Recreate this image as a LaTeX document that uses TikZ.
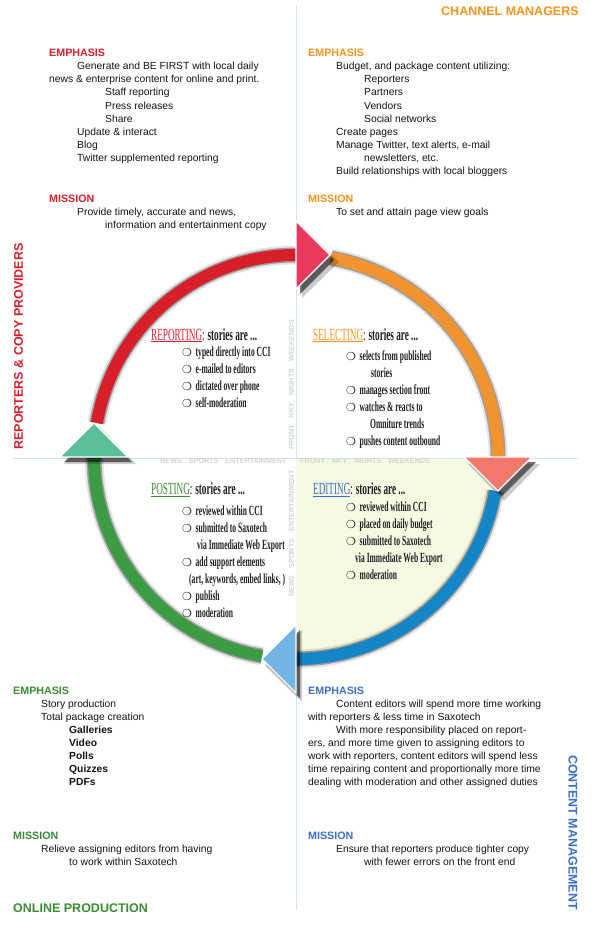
\documentclass[tikz,border=0pt]{standalone}
\usepackage{fontspec}
\setmainfont{Liberation Sans}
\newfontfamily\condfont[FakeStretch=0.54]{Liberation Serif}
\newfontfamily\dvfont{DejaVu Sans}
\definecolor{cRed}{HTML}{D9202A}
\definecolor{cOrange}{HTML}{F7941D}
\definecolor{cGreen}{HTML}{3B8C35}
\definecolor{cBlue}{HTML}{3A6FCB}
\definecolor{aRed}{HTML}{D71F2A}
\definecolor{aOrange}{HTML}{F29331}
\definecolor{aBlue}{HTML}{1685C8}
\definecolor{aGreen}{HTML}{3C9C44}
\definecolor{tTop}{HTML}{E93A5D}
\definecolor{tRight}{HTML}{F1786C}
\definecolor{tBottom}{HTML}{72B4E4}
\definecolor{tLeft}{HTML}{5CBF98}
\definecolor{quadcol}{HTML}{F5FBE3}
\definecolor{axiscol}{HTML}{D3E5F3}
\newcommand\bulx{\makebox[13.5pt][l]{\mdseries\dvfont\fontsize{11}{11}\selectfont ❍}}
\newcommand\indn[1]{\hspace*{#1pt}}
\newcommand\hdr[2]{{\color{#1}\bfseries\fontsize{10.7}{13.1}\selectfont #2}}
\begin{document}
\begin{tikzpicture}[x=1pt,y=-1pt,
  body/.style={anchor=north west, inner sep=0, align=left, text=black!92,
    font=\fontsize{10.3}{13.1}\selectfont},
  side/.style={inner sep=0, font=\bfseries\fontsize{12.5}{14}\selectfont},
  wm/.style={inner sep=0, text=black!17, font=\bfseries\fontsize{7.2}{8}\selectfont},
  items/.style={anchor=north west, inner sep=0, align=left, text=black!88,
    font=\condfont\bfseries\fontsize{14}{17}\selectfont},
  stage/.style={anchor=base west, inner sep=0, text=black!88,
    font=\condfont\fontsize{17}{19}\selectfont},
  axisline/.style={draw=axiscol, line width=1},
  ring/.style={line width=12},
  shA/.style={line width=19, black, opacity=0.10},
  shB/.style={line width=15, black, opacity=0.30},
  shC/.style={line width=11, black, opacity=0.65},
  tri/.style={draw=white, line width=1.3},
  trishA/.style={fill=black, opacity=0.20},
  trishB/.style={fill=black, opacity=0.55}
]
\useasboundingbox (0,0) rectangle (600,933);
\fill[white] (0,0) rectangle (600,933);

% axes
\coordinate (vtop) at (296,5);
\coordinate (vbot) at (296,910);
\coordinate (hl) at (12,458);
\coordinate (hr) at (578,458);
\draw[axisline] (vtop) -- (vbot);
\draw[axisline] (hl) -- (hr);

% circle centre and quadrant fill
\coordinate (C) at (296,457);
\fill[quadcol] (296,459) -- (498,459) arc[start angle=0, end angle=90, radius=202] -- cycle;

% watermarks
\node[wm, anchor=west] (wm1) at (160,461) {NEWS\hspace{7pt}SPORTS\hspace{7pt}ENTERTAINMENT};
\node[wm, anchor=west] (wm2) at (300,461) {FRONT\hspace{7pt}NKY\hspace{7pt}NIGHTS\hspace{7pt}WEEKENDS};
\node[wm, anchor=west, rotate=90] (wm3) at (291.5,597) {NEWS\hspace{7pt}SPORTS\hspace{7pt}ENTERTAINMENT};
\node[wm, anchor=west, rotate=90] (wm4) at (291.5,450) {FRONT\hspace{7pt}NKY\hspace{7pt}NIGHTS\hspace{7pt}WEEKENDS};

% arc shadows
\begin{scope}[shift={(5,6)}]
\foreach \a/\b in {189.7/270, 280/360, 9.7/90, 99.7/180}{
  \draw[shA] (C) ++(\a:202) arc[start angle=\a, end angle=\b, radius=202];
  \draw[shB] (C) ++(\a:202) arc[start angle=\a, end angle=\b, radius=202];
  \draw[shC] (C) ++(\a:202) arc[start angle=\a, end angle=\b, radius=202];
}
\end{scope}

% arcs
\draw[ring, aRed] (C) ++(189.7:202) arc[start angle=189.7, end angle=270, radius=202];
\draw[ring, aOrange] (C) ++(280:202) arc[start angle=280, end angle=360, radius=202];
\draw[ring, aBlue] (C) ++(9.7:202) arc[start angle=9.7, end angle=90, radius=202];
\draw[ring, aGreen] (C) ++(99.7:202) arc[start angle=99.7, end angle=180, radius=202];

% arrowhead shadows
\begin{scope}[shift={(6,7)}]
\fill[trishA] (296,219) -- (333,255) -- (296,291) -- cycle;
\fill[trishA] (462,457) -- (534,457) -- (498,494) -- cycle;
\fill[trishA] (296,623) -- (296,695) -- (259,659) -- cycle;
\fill[trishA] (58,457) -- (130,457) -- (94,420) -- cycle;
\end{scope}
\begin{scope}[shift={(4,5)}]
\fill[trishB] (296,221) -- (330,255) -- (296,289) -- cycle;
\fill[trishB] (464,457) -- (532,457) -- (498,491) -- cycle;
\fill[trishB] (296,625) -- (296,693) -- (262,659) -- cycle;
\fill[trishB] (60,457) -- (128,457) -- (94,423) -- cycle;
\end{scope}

% arrowheads
\filldraw[tri, fill=tTop] (296,221) -- (330,255) -- (296,289) -- cycle;
\filldraw[tri, fill=tRight] (464,457) -- (532,457) -- (498,491) -- cycle;
\filldraw[tri, fill=tBottom] (296,625) -- (296,693) -- (262,659) -- cycle;
\filldraw[tri, fill=tLeft] (60,457) -- (128,457) -- (94,423) -- cycle;

% side labels
\node[side, text=cOrange, anchor=base west] (chan) at (441,15.5) {CHANNEL MANAGERS};
\node[side, text=cRed, rotate=90] (repcopy) at (18.5,346.5) {REPORTERS \& COPY PROVIDERS};
\node[side, text=cBlue, rotate=-90] (content) at (573,832.5) {CONTENT MANAGEMENT};
\node[side, text=cGreen, anchor=base west] (online) at (13,912.5) {ONLINE PRODUCTION};

% top-left
\node[body] (tl1) at (49,47.3) {\strut\hdr{cRed}{EMPHASIS}\\
\indn{28}Generate and BE FIRST with local daily\\
news \& enterprise content for online and print.\\
\indn{56}Staff reporting\\
\indn{56}Press releases\\
\indn{56}Share\\
\indn{28}Update \& interact\\
\indn{28}Blog\\
\indn{28}Twitter supplemented reporting};
\node[body] (tl2) at (49,192.8) {\strut\hdr{cRed}{MISSION}\\
\indn{28}Provide timely, accurate and news,\\
\indn{56}information and entertainment copy};

% top-right
\node[body] (tr1) at (308,47.3) {\strut\hdr{cOrange}{EMPHASIS}\\
\indn{28}Budget, and package content utilizing:\\
\indn{56}Reporters\\
\indn{56}Partners\\
\indn{56}Vendors\\
\indn{56}Social networks\\
\indn{28}Create pages\\
\indn{28}Manage Twitter, text alerts, e-mail\\
\indn{56}newsletters, etc.\\
\indn{28}Build relationships with local bloggers};
\node[body] (tr2) at (308,192.8) {\strut\hdr{cOrange}{MISSION}\\
\indn{28}To set and attain page view goals};

% bottom-left
\node[body] (bl1) at (13,684.8) {\strut\hdr{cGreen}{EMPHASIS}\\
\indn{28}Story production\\
\indn{28}Total package creation\\
\indn{56}\textbf{Galleries}\\
\indn{56}\textbf{Video}\\
\indn{56}\textbf{Polls}\\
\indn{56}\textbf{Quizzes}\\
\indn{56}\textbf{PDFs}};
\node[body] (bl2) at (13,829.8) {\strut\hdr{cGreen}{MISSION}\\
\indn{28}Relieve assigning editors from having\\
\indn{56}to work within Saxotech};

% bottom-right
\node[body] (br1) at (308,684.8) {\strut\hdr{cBlue}{EMPHASIS}\\
\indn{28}Content editors will spend more time working\\
with reporters \& less time in Saxotech\\
\indn{28}With more responsibility placed on report-\\
ers, and more time given to assigning editors to\\
work with reporters, content editors will spend less\\
time repairing content and proportionally more time\\
dealing with moderation and other assigned duties};
\node[body] (br2) at (308,829.8) {\strut\hdr{cBlue}{MISSION}\\
\indn{28}Ensure that reporters produce tighter copy\\
\indn{56}with fewer errors on the front end};

% centre stages
\node[stage] (rep) at (151,340) {{\color{cRed}\underline{REPORTING}}:\,{\bfseries stories are ...}};
\node[items] (repi) at (182,344.7) {\strut\bulx typed directly into CCI\\
\bulx e-mailed to editors\\
\bulx dictated over phone\\
\bulx self-moderation};

\node[stage] (sel) at (313,340) {{\color{cOrange}\underline{SELECTING}}:\,{\bfseries stories are ...}};
\node[items] (seli) at (346,348.7) {\strut\bulx selects from published\\
\indn{25}stories\\
\bulx manages section front\\
\bulx watches \& reacts to\\
\indn{24}Omniture trends\\
\bulx pushes content outbound};

\node[stage] (post) at (151,494.6) {{\color{cGreen}\underline{POSTING}}:\,{\bfseries stories are ...}};
\node[items] (posti) at (182,503.7) {\strut\bulx reviewed within CCI\\
\bulx submitted to Saxotech\\
\indn{15}via Immediate Web Export\\
\bulx add support elements\\
\indn{7}(art, keywords, embed links, )\\
\bulx publish\\
\bulx moderation};

\node[stage] (edit) at (313,494.6) {{\color{cBlue}\underline{EDITING}}:\,{\bfseries stories are ...}};
\node[items] (editi) at (346,499.7) {\strut\bulx reviewed within CCI\\
\bulx placed on daily budget\\
\bulx submitted to Saxotech\\
\indn{9}via Immediate Web Export\\
\bulx moderation};
\end{tikzpicture}
\end{document}
